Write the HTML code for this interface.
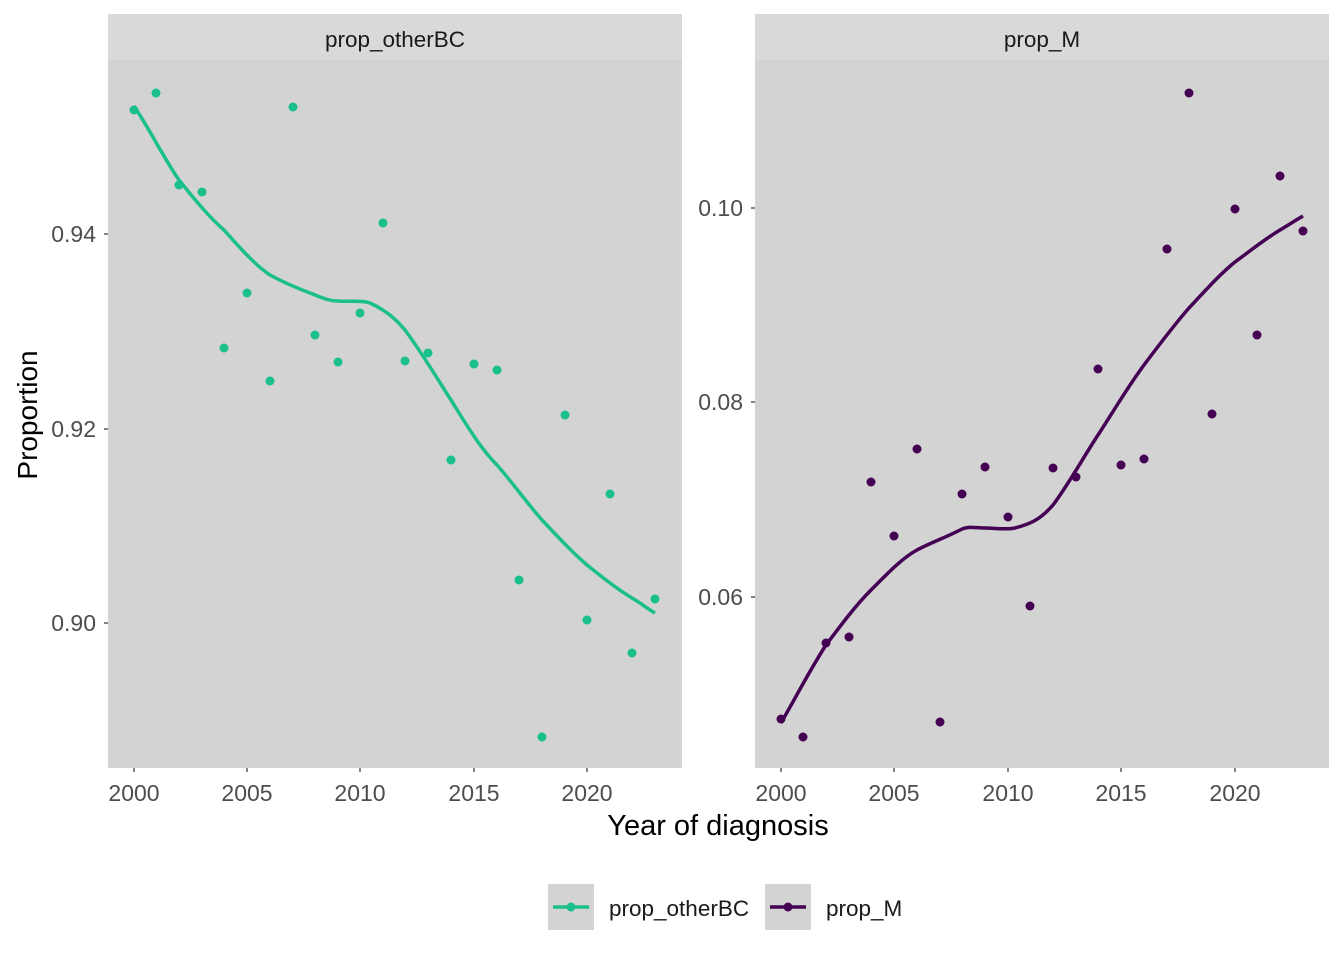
<!DOCTYPE html>
<html><head><style>body{margin:0;background:#fff}svg{display:block}</style></head><body>
<svg width="1344" height="960" xmlns="http://www.w3.org/2000/svg" font-family="Liberation Sans, Arial, sans-serif">
<rect width="1344" height="960" fill="#fff"/>
<!-- left panel -->
<rect x="108" y="14" width="574" height="46" fill="#d9d9d9"/>
<text x="395" y="47" font-size="22.5" text-anchor="middle" fill="#1a1a1a">prop_otherBC</text>
<rect x="108" y="60" width="574" height="708" fill="#d3d3d3"/>
<path d="M134,106 C150,130 165,160 179,180 C195,200 210,218 224,230 C240,248 255,265 270,275 C290,286 305,291 315,295 C325,299 330,301 338,301 C350,302 362,300 370,303 C385,310 395,318 405,330 C420,350 435,375 451,400 C466,424 480,448 497,465 C512,482 527,503 542,520 C557,536 572,552 587,565 C602,577 617,589 632,598 C642,604 648,609 655,613" fill="none" stroke="#1abf8c" stroke-width="3.5"/>
<g fill="#1abf8c">
<circle cx="134" cy="110" r="4.5"/><circle cx="156" cy="93" r="4.5"/><circle cx="179" cy="185" r="4.5"/><circle cx="202" cy="192" r="4.5"/><circle cx="224" cy="348" r="4.5"/><circle cx="247" cy="293" r="4.5"/><circle cx="270" cy="381" r="4.5"/><circle cx="293" cy="107" r="4.5"/><circle cx="315" cy="335" r="4.5"/><circle cx="338" cy="362" r="4.5"/><circle cx="360" cy="313" r="4.5"/><circle cx="383" cy="223" r="4.5"/><circle cx="405" cy="361" r="4.5"/><circle cx="428" cy="353" r="4.5"/><circle cx="451" cy="460" r="4.5"/><circle cx="474" cy="364" r="4.5"/><circle cx="497" cy="370" r="4.5"/><circle cx="519" cy="580" r="4.5"/><circle cx="542" cy="737" r="4.5"/><circle cx="565" cy="415" r="4.5"/><circle cx="587" cy="620" r="4.5"/><circle cx="610" cy="494" r="4.5"/><circle cx="632" cy="653" r="4.5"/><circle cx="655" cy="599" r="4.5"/>
</g>
<g stroke="#333" stroke-width="1.2">
<line x1="104" y1="234" x2="108" y2="234"/><line x1="104" y1="429" x2="108" y2="429"/><line x1="104" y1="623" x2="108" y2="623"/>
<line x1="134" y1="768" x2="134" y2="772"/><line x1="247" y1="768" x2="247" y2="772"/><line x1="360" y1="768" x2="360" y2="772"/><line x1="474" y1="768" x2="474" y2="772"/><line x1="587" y1="768" x2="587" y2="772"/>
</g>
<g font-size="23" fill="#4d4d4d" text-anchor="end">
<text x="96" y="242">0.94</text><text x="96" y="437">0.92</text><text x="96" y="631">0.90</text>
</g>
<g font-size="23" fill="#4d4d4d" text-anchor="middle">
<text x="134" y="801">2000</text><text x="247" y="801">2005</text><text x="360" y="801">2010</text><text x="474" y="801">2015</text><text x="587" y="801">2020</text>
</g>
<!-- right panel -->
<rect x="755" y="14" width="574" height="46" fill="#d9d9d9"/>
<text x="1042" y="47" font-size="22.5" text-anchor="middle" fill="#1a1a1a">prop_M</text>
<rect x="755" y="60" width="574" height="708" fill="#d3d3d3"/>
<path d="M781,723 C796,697 811,668 826,645 C841,625 856,605 871,590 C886,575 902,558 917,550 C932,542 947,537 962,529 C970,526 975,528 985,528 C995,528 1005,530 1015,528 C1030,524 1040,520 1053,505 C1068,485 1083,458 1098,435 C1113,412 1129,385 1144,365 C1159,345 1174,325 1189,308 C1204,292 1220,274 1235,262 C1250,251 1265,239 1280,230 C1290,224 1296,220 1303,216" fill="none" stroke="#440154" stroke-width="3.5"/>
<g fill="#440154">
<circle cx="781" cy="719" r="4.5"/><circle cx="803" cy="737" r="4.5"/><circle cx="826" cy="643" r="4.5"/><circle cx="849" cy="637" r="4.5"/><circle cx="871" cy="482" r="4.5"/><circle cx="894" cy="536" r="4.5"/><circle cx="917" cy="449" r="4.5"/><circle cx="940" cy="722" r="4.5"/><circle cx="962" cy="494" r="4.5"/><circle cx="985" cy="467" r="4.5"/><circle cx="1008" cy="517" r="4.5"/><circle cx="1030" cy="606" r="4.5"/><circle cx="1053" cy="468" r="4.5"/><circle cx="1076" cy="477" r="4.5"/><circle cx="1098" cy="369" r="4.5"/><circle cx="1121" cy="465" r="4.5"/><circle cx="1144" cy="459" r="4.5"/><circle cx="1167" cy="249" r="4.5"/><circle cx="1189" cy="93" r="4.5"/><circle cx="1212" cy="414" r="4.5"/><circle cx="1235" cy="209" r="4.5"/><circle cx="1257" cy="335" r="4.5"/><circle cx="1280" cy="176" r="4.5"/><circle cx="1303" cy="231" r="4.5"/>
</g>
<g stroke="#333" stroke-width="1.2">
<line x1="751" y1="208" x2="755" y2="208"/><line x1="751" y1="402" x2="755" y2="402"/><line x1="751" y1="597" x2="755" y2="597"/>
<line x1="781" y1="768" x2="781" y2="772"/><line x1="894" y1="768" x2="894" y2="772"/><line x1="1008" y1="768" x2="1008" y2="772"/><line x1="1121" y1="768" x2="1121" y2="772"/><line x1="1235" y1="768" x2="1235" y2="772"/>
</g>
<g font-size="23" fill="#4d4d4d" text-anchor="end">
<text x="743" y="216">0.10</text><text x="743" y="410">0.08</text><text x="743" y="605">0.06</text>
</g>
<g font-size="23" fill="#4d4d4d" text-anchor="middle">
<text x="781" y="801">2000</text><text x="894" y="801">2005</text><text x="1008" y="801">2010</text><text x="1121" y="801">2015</text><text x="1235" y="801">2020</text>
</g>
<!-- axis titles -->
<text x="718" y="835" font-size="29" text-anchor="middle" fill="#000">Year of diagnosis</text>
<text transform="translate(37,415) rotate(-90)" font-size="28" text-anchor="middle" fill="#000">Proportion</text>
<!-- legend -->
<rect x="548" y="884" width="46" height="46" fill="#d3d3d3"/>
<line x1="553" y1="907" x2="589" y2="907" stroke="#1abf8c" stroke-width="3.5"/><circle cx="571" cy="907" r="4.5" fill="#1abf8c"/>
<text x="609" y="916" font-size="22.5" fill="#1a1a1a">prop_otherBC</text>
<rect x="765" y="884" width="46" height="46" fill="#d3d3d3"/>
<line x1="770" y1="907" x2="806" y2="907" stroke="#440154" stroke-width="3.5"/><circle cx="788" cy="907" r="4.5" fill="#440154"/>
<text x="826" y="916" font-size="22.5" fill="#1a1a1a">prop_M</text>
</svg>
</body></html>
